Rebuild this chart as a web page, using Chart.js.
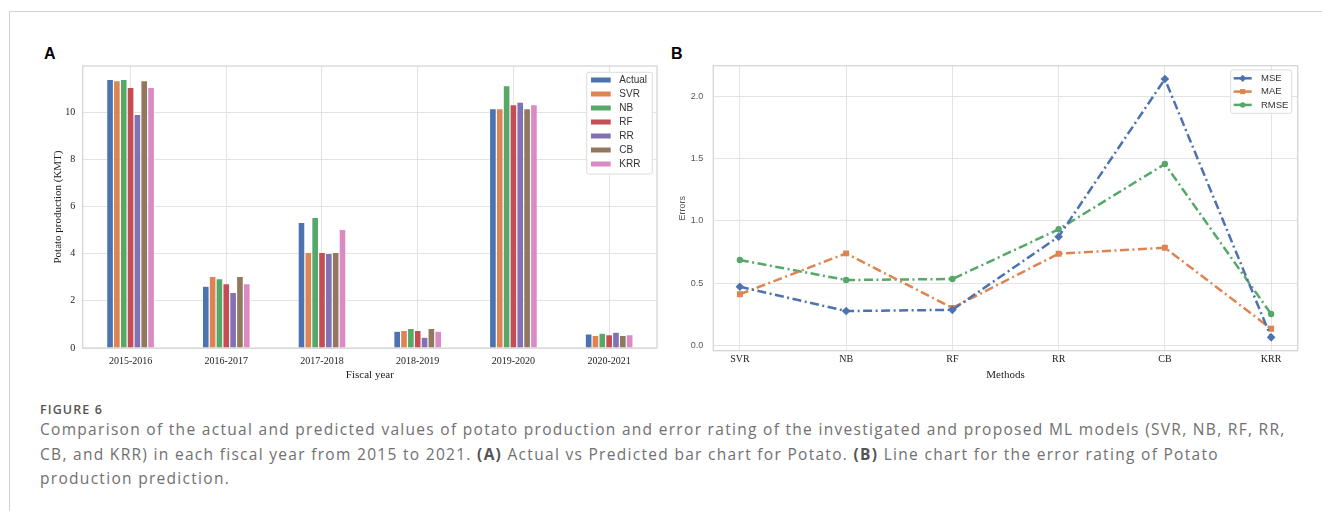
<!DOCTYPE html>
<html lang="en">
<head>
<meta charset="UTF-8">
<title>Figure 6</title>
<script src="https://cdn.jsdelivr.net/npm/chart.js"></script>
<style>
    html, body { margin: 0; padding: 0; background: #fff; overflow: hidden; }
    body { width: 1322px; height: 511px; position: relative; font-family: "Liberation Sans", Arial, sans-serif; }
    .frame { position: absolute; left: 9px; top: 11px; width: 1320px; height: 510px; border-top: 1px solid #d2d2d2; border-left: 1px solid #d2d2d2; }
    .panel { position: absolute; font: bold 16px "Liberation Sans", Arial, sans-serif; color: #000; }
    .box { position: absolute; }
    .figno { position: absolute; left: 40px; top: 402px; font: 600 12.5px/16px "Open Sans", sans-serif; letter-spacing: 1.1px; color: #555; }
    .caption { position: absolute; left: 40px; top: 417px; font: 15.5px/24.5px "Open Sans", sans-serif; letter-spacing: 1.3px; color: #707070; white-space: nowrap; }
    .caption b { color: #555; }
</style>
</head>
<body>
<div class="frame"></div>
<div class="panel" style="left:44px; top:45px;">A</div>
<div class="panel" style="left:671px; top:45px;">B</div>

<div class="box" style="left:40px; top:60px; width:630px; height:330px;"><canvas id="barChart"></canvas></div>
<div class="box" style="left:660px; top:60px; width:650px; height:330px;"><canvas id="lineChart"></canvas></div>

<div class="figno">FIGURE 6</div>
<div class="caption">Comparison of the actual and predicted values of potato production and error rating of the investigated and proposed ML models (SVR, NB, RF, RR,<br>CB, and KRR) in each fiscal year from 2015 to 2021. <b>(A)</b> Actual vs Predicted bar chart for Potato. <b>(B)</b> Line chart for the error rating of Potato<br>production prediction.</div>

<script>
// panel A : actual vs predicted potato production (KMT)
const years = ['2015-2016', '2016-2017', '2017-2018', '2018-2019', '2019-2020', '2020-2021'];
const actual = [11.39, 2.62, 5.33, 0.71, 10.15, 0.60];
const svr    = [11.34, 3.04, 4.05, 0.75, 10.15, 0.53];
const nb     = [11.39, 2.94, 5.54, 0.83, 11.13, 0.63];
const rf     = [11.05, 2.73, 4.05, 0.75, 10.32, 0.57];
const rr     = [9.91, 2.36, 4.01, 0.46, 10.43, 0.67];
const cb     = [11.34, 3.04, 4.05, 0.83, 10.15, 0.53];
const krr    = [11.05, 2.73, 5.03, 0.71, 10.32, 0.57];
const prodTicks = [0, 2, 4, 6, 8, 10];

// panel B : error rating per method
const methods = ['SVR', 'NB', 'RF', 'RR', 'CB', 'KRR'];
const mse  = [0.47, 0.275, 0.285, 0.872, 2.137, 0.064];
const mae  = [0.41, 0.738, 0.30, 0.735, 0.783, 0.133];
const rmse = [0.685, 0.524, 0.532, 0.931, 1.455, 0.251];
const errTicks = [0.0, 0.5, 1.0, 1.5, 2.0];

const deep = {
    blue: '#4C72B0', orange: '#DD8452', green: '#55A868', red: '#C44E52',
    purple: '#8172B3', brown: '#937860', pink: '#DA8BC3'
};
const gridColor = '#e3e3e3';
const serif = '"Liberation Serif", "Times New Roman", serif';
const sans = '"Liberation Sans", Arial, sans-serif';

// fixed axis boxes so the plot area lands where the reference has it
const fixY = w => s => { s.width = w; s.paddingTop = 0; s.paddingBottom = 0; };
const fixX = h => s => { s.height = h; s.paddingLeft = 0; s.paddingRight = 0; };

// light frame round the plot area (seaborn whitegrid spines)
const plotFrame = {
    id: 'plotFrame',
    beforeDatasetsDraw(chart) {
        const { ctx, chartArea: a } = chart;
        ctx.save();
        ctx.strokeStyle = '#d6d6d6';
        ctx.lineWidth = 1.3;
        ctx.strokeRect(a.left, a.top, a.right - a.left, a.bottom - a.top);
        ctx.restore();
    }
};

// legend drawn inside the plot, upper right
const boxLegend = {
    id: 'boxLegend',
    afterDraw(chart, args, o) {
        const { ctx, chartArea: a } = chart;
        const x = a.right - o.right - o.width;
        const y = a.top + o.top;
        ctx.save();
        ctx.beginPath();
        ctx.roundRect(x, y, o.width, o.height, 2);
        ctx.fillStyle = 'rgba(255,255,255,0.9)';
        ctx.fill();
        ctx.strokeStyle = '#dcdcdc';
        ctx.lineWidth = 1;
        ctx.stroke();
        chart.data.datasets.forEach((ds, i) => {
            const cy = y + o.first + i * o.step;
            if (o.kind === 'bar') {
                ctx.fillStyle = ds.backgroundColor;
                ctx.fillRect(x + o.swX, cy - 2.5, o.swW, 5);
            } else {
                ctx.strokeStyle = ds.borderColor;
                ctx.lineWidth = 2.5;
                ctx.setLineDash([]);
                ctx.beginPath();
                ctx.moveTo(x + o.swX, cy);
                ctx.lineTo(x + o.swX + o.swW, cy);
                ctx.stroke();
                ctx.fillStyle = ds.borderColor;
                Chart.helpers.drawPoint(ctx, {
                    pointStyle: ds.pointStyle, radius: ds.pointRadius * 0.85,
                    rotation: 0, borderWidth: 0
                }, x + o.swX + o.swW / 2, cy);
            }
            ctx.fillStyle = '#333';
            ctx.font = o.font;
            ctx.textBaseline = 'middle';
            ctx.fillText(ds.label, x + o.textX, cy);
        });
        ctx.restore();
    }
};

const barSets = [
    ['Actual', actual, deep.blue], ['SVR', svr, deep.orange], ['NB', nb, deep.green],
    ['RF', rf, deep.red], ['RR', rr, deep.purple], ['CB', cb, deep.brown], ['KRR', krr, deep.pink]
];

new Chart(document.getElementById('barChart'), {
    type: 'bar',
    data: {
        labels: years,
        datasets: barSets.map(([label, data, color]) => ({
            label, data,
            backgroundColor: color,
            borderColor: '#ffffff',
            borderWidth: 0.6,
            categoryPercentage: 0.5,
            barPercentage: 1.0
        }))
    },
    options: {
        responsive: true,
        maintainAspectRatio: false,
        animation: false,
        layout: { padding: { top: 6, right: 13, left: 0, bottom: 0 } },
        plugins: {
            legend: { display: false },
            tooltip: { enabled: false },
            boxLegend: { kind: 'bar', right: 4.7, top: 6.3, width: 65.6, height: 101.7,
                         first: 7.7, step: 14, swX: 4.3, swW: 19.7, textX: 32.6,
                         font: '10px ' + sans }
        },
        scales: {
            x: {
                grid: { color: gridColor, offset: false, drawTicks: false },
                border: { display: false },
                ticks: { color: '#222', padding: 7, font: { family: serif, size: 10 } },
                title: { display: true, text: 'Fiscal year', color: '#222',
                         font: { family: serif, size: 11 }, padding: { top: 0, bottom: 8.4 } },
                afterFit: fixX(42)
            },
            y: {
                min: 0, max: 11.96,
                grid: { color: gridColor, drawTicks: false },
                border: { display: false },
                afterBuildTicks: s => { s.ticks = prodTicks.map(v => ({ value: v })); },
                ticks: { color: '#222', padding: 7.5, font: { family: serif, size: 10 } },
                title: { display: true, text: 'Potato production (KMT)', color: '#222',
                         font: { family: serif, size: 11 }, padding: { top: 11.4, bottom: 0 } },
                afterFit: fixY(42.7)
            }
        }
    },
    plugins: [plotFrame, boxLegend]
});

const dashDot = [9, 3.5, 2, 3.5];
const lineSets = [
    ['MSE', mse, deep.blue, 'rectRot', 4.3],
    ['MAE', mae, deep.orange, 'rect', 4.2],
    ['RMSE', rmse, deep.green, 'circle', 3.2]
];

new Chart(document.getElementById('lineChart'), {
    type: 'line',
    data: {
        datasets: lineSets.map(([label, vals, color, style, r]) => ({
            label,
            data: vals.map((v, i) => ({ x: i, y: v })),
            borderColor: color,
            backgroundColor: color,
            borderWidth: 2.5,
            borderDash: dashDot,
            pointStyle: style,
            pointRadius: r,
            pointBorderWidth: 0,
            pointBackgroundColor: color,
            tension: 0
        }))
    },
    options: {
        responsive: true,
        maintainAspectRatio: false,
        animation: false,
        layout: { padding: { top: 5.7, right: 12.3, left: 0, bottom: 0 } },
        plugins: {
            legend: { display: false },
            tooltip: { enabled: false },
            boxLegend: { kind: 'line', right: 6, top: 4.3, width: 61, height: 43.3,
                         first: 8.3, step: 13.3, swX: 3, swW: 18, textX: 30.3,
                         font: '9.5px ' + sans }
        },
        scales: {
            x: {
                type: 'linear',
                min: -0.25, max: 5.25,
                grid: { color: gridColor, drawTicks: false },
                border: { display: false },
                afterBuildTicks: s => { s.ticks = methods.map((m, i) => ({ value: i })); },
                ticks: { color: '#222', padding: 3, font: { family: serif, size: 10 },
                         callback: v => methods[v] },
                title: { display: true, text: 'Methods', color: '#222',
                         font: { family: serif, size: 11 }, padding: { top: 0, bottom: 8.4 } },
                afterFit: fixX(39.3)
            },
            y: {
                min: -0.043, max: 2.244,
                grid: { color: gridColor, drawTicks: false },
                border: { display: false },
                afterBuildTicks: s => { s.ticks = errTicks.map(v => ({ value: v })); },
                ticks: { color: '#555', padding: 10, font: { family: sans, size: 9 },
                         callback: v => v.toFixed(1) },
                title: { display: true, text: 'Errors', color: '#555',
                         font: { family: sans, size: 9 }, padding: { top: 17.3, bottom: 0 } },
                afterFit: fixY(53.3)
            }
        }
    },
    plugins: [plotFrame, boxLegend]
});
</script>
</body>
</html>
